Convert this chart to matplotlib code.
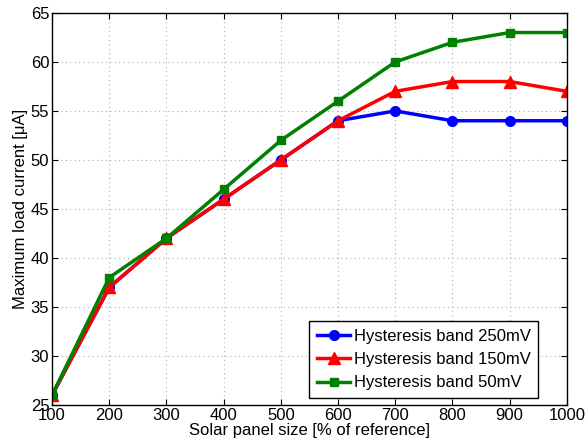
import matplotlib
matplotlib.use("Agg")
import matplotlib.pyplot as plt

plt.rcParams['font.family'] = ['Liberation Sans', 'DejaVu Sans']

x = [100, 200, 300, 400, 500, 600, 700, 800, 900, 1000]
band_250 = [26, 37, 42, 46, 50, 54, 55, 54, 54, 54]
band_150 = [26, 37, 42, 46, 50, 54, 57, 58, 58, 57]
band_50 = [26, 38, 42, 47, 52, 56, 60, 62, 63, 63]
labels = ['Hysteresis band 250mV', 'Hysteresis band 150mV', 'Hysteresis band 50mV']

fig = plt.figure(figsize=(5.85, 4.46), dpi=100)
ax = fig.add_axes([0.089, 0.092, 0.880, 0.879])

ax.plot(x, band_250, color='#0000ff', lw=2.5, marker='o', ms=7, label=labels[0])
ax.plot(x, band_150, color='#ff0000', lw=2.5, marker='^', ms=8, label=labels[1])
ax.plot(x, band_50, color='#008000', lw=2.5, marker='s', ms=5.5, label=labels[2])

ax.set_xlim(100, 1000)
ax.set_ylim(25, 65)
ax.set_xticks(x)
ax.set_yticks(range(25, 66, 5))
ax.grid(True, color='#b0b0b0', linestyle=(0, (1, 3)), linewidth=0.8)
ax.tick_params(direction='in', labelsize=12, length=4, top=True, right=True, pad=2)
for s in ax.spines.values():
    s.set_linewidth(1.0)
ax.set_xlabel('Solar panel size [% of reference]', fontsize=12, labelpad=0)
ax.set_ylabel('Maximum load current [\u03bcA]', fontsize=12, labelpad=2)

leg = ax.legend(loc='lower right', bbox_to_anchor=(0.944, 0.018), fontsize=12,
                fancybox=False, framealpha=1, edgecolor='black', handlelength=2.0,
                borderaxespad=0, handletextpad=0.2, labelspacing=0.5, borderpad=0.45)
leg.get_frame().set_linewidth(1.0)

fig.savefig('out.png', dpi=100)
